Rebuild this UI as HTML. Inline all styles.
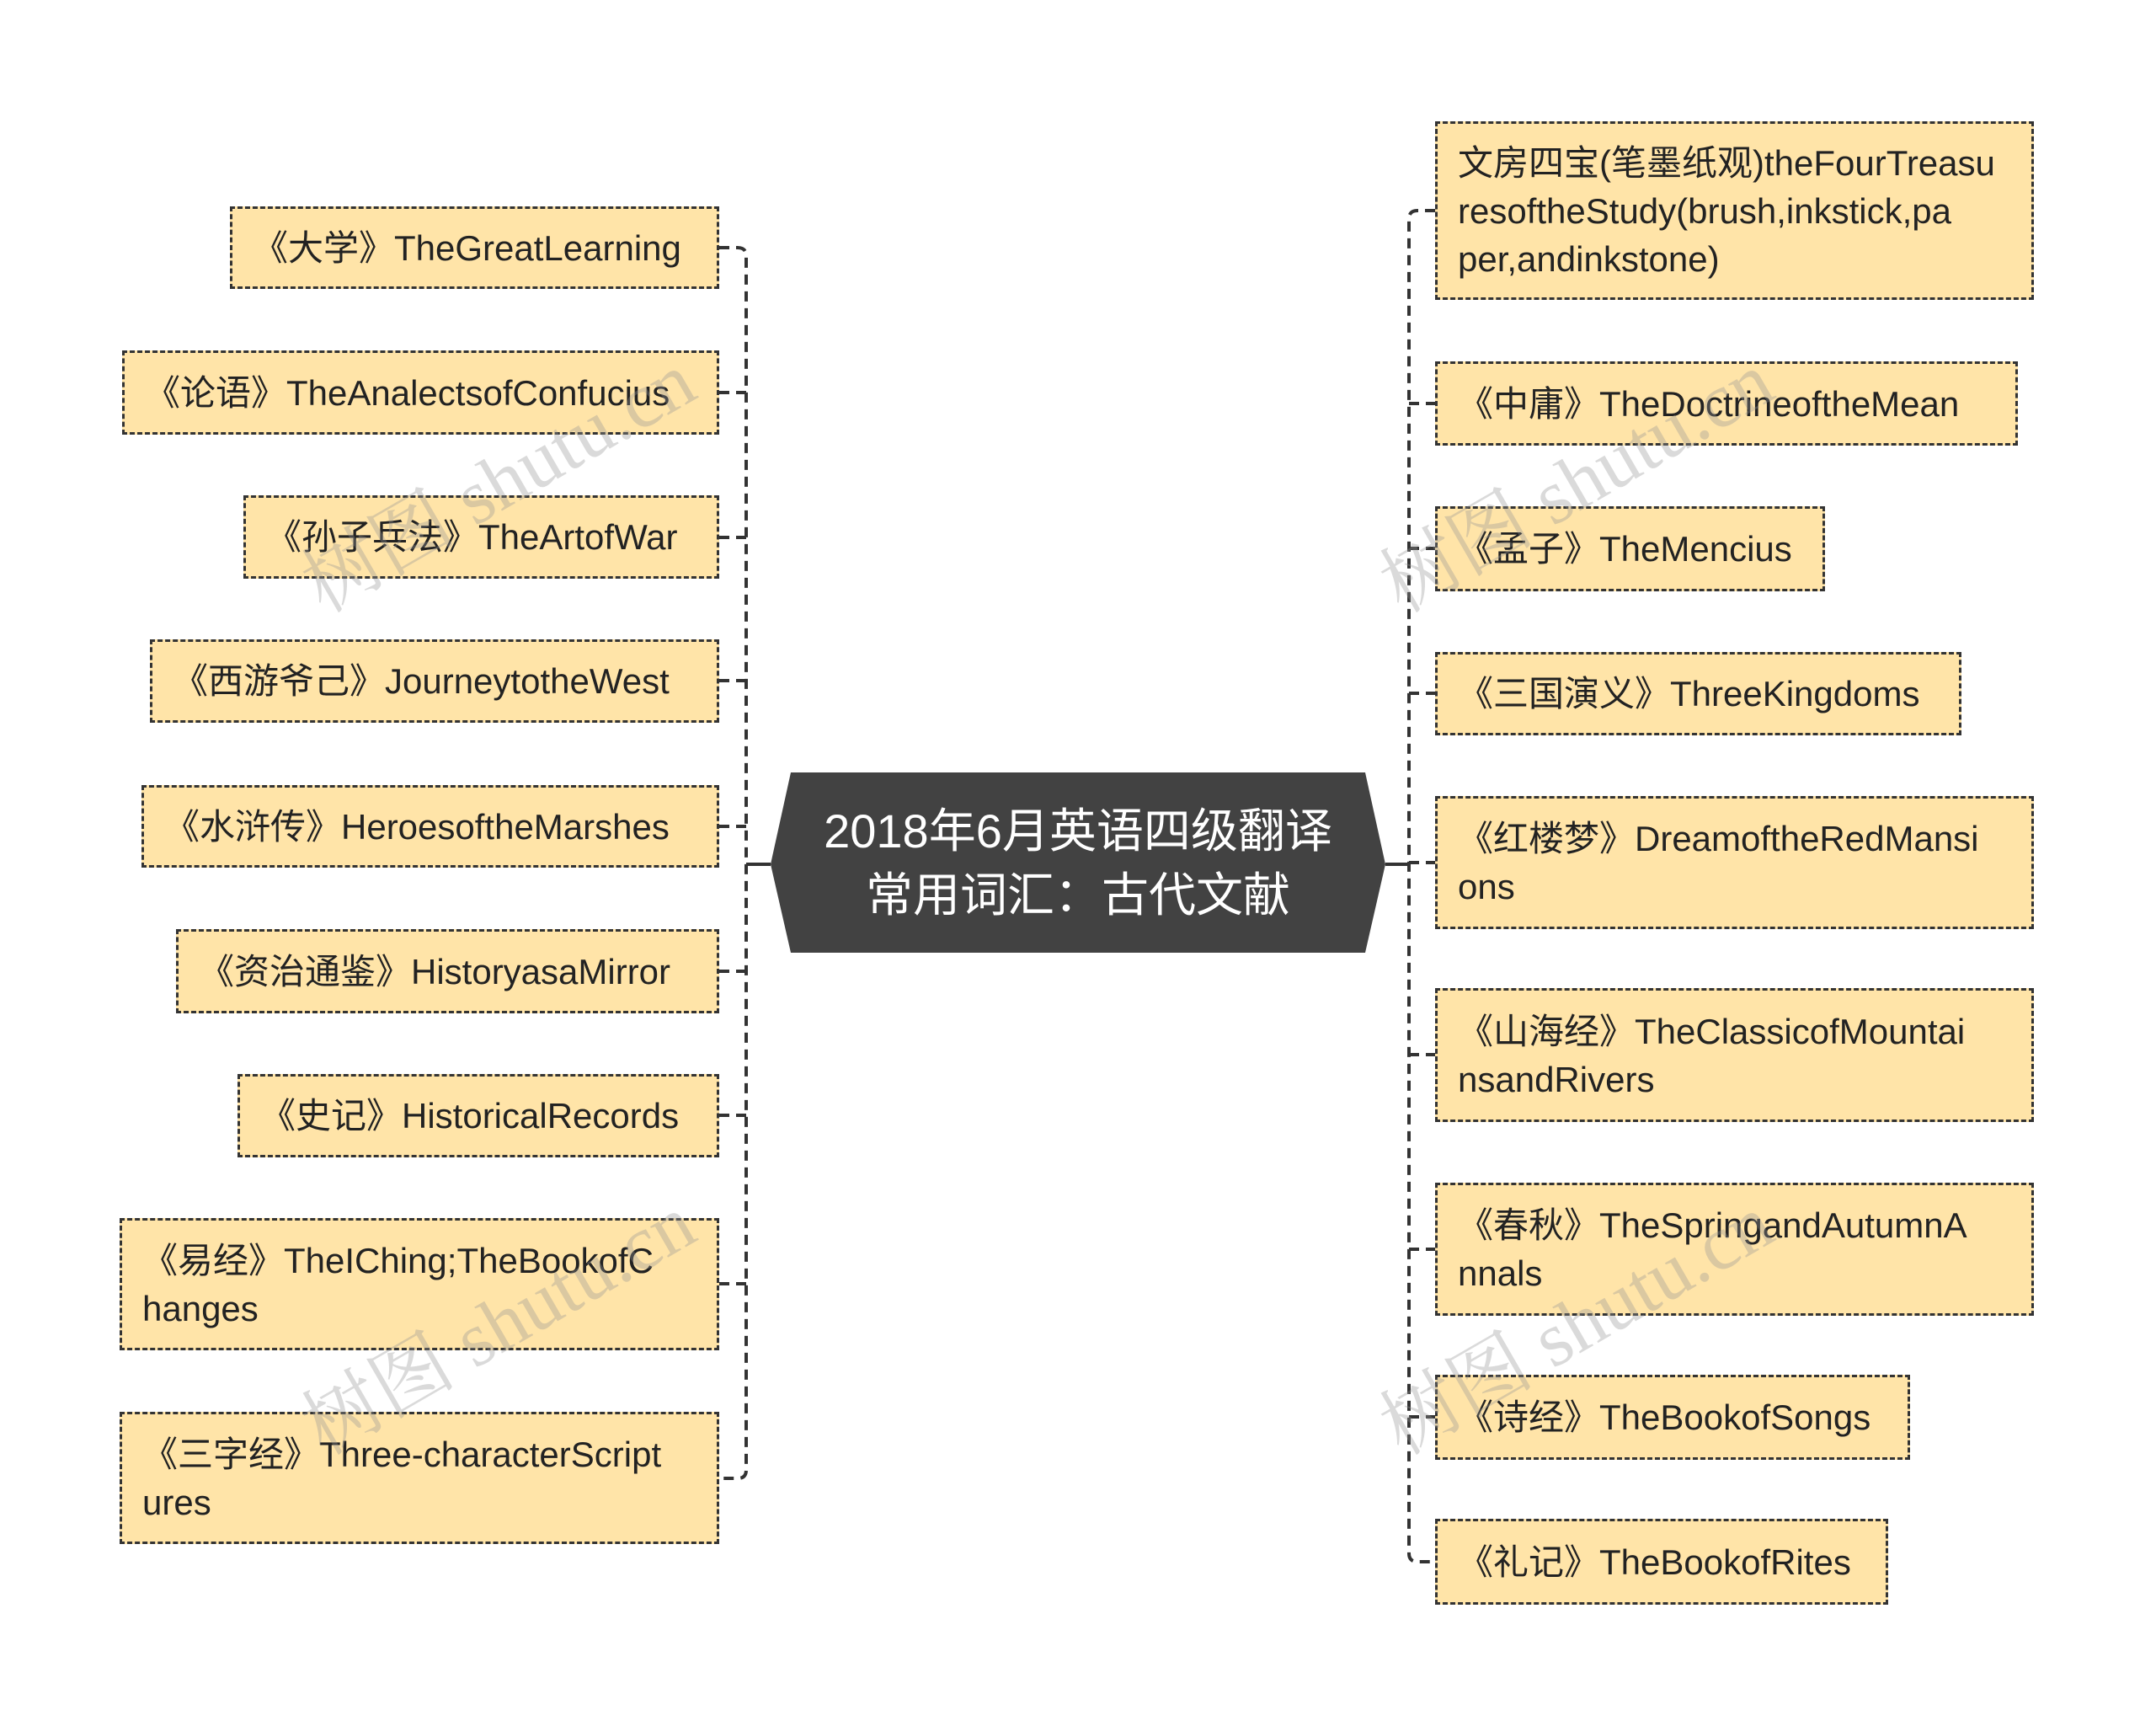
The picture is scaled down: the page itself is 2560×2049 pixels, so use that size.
<!DOCTYPE html>
<html><head><meta charset="utf-8"><style>
body{margin:0;width:2560px;height:2049px;background:#fff;position:relative;overflow:hidden;font-family:"Liberation Sans","Noto Sans CJK SC",sans-serif}
.n{position:absolute;box-sizing:border-box;background:#ffe4a8;border:3px dashed #333;padding:0 10px 0 24px;display:flex;align-items:center;font-size:42px;line-height:57px;color:#222;white-space:nowrap}
.w{position:absolute;font-family:"Liberation Serif","Noto Serif CJK SC",serif;font-size:92px;color:rgba(150,150,150,0.35);transform:rotate(-30deg);white-space:nowrap;transform-origin:center}
</style></head><body>
<svg width="2560" height="2049" style="position:absolute;left:0;top:0">
<g stroke="#333" stroke-width="4" fill="none" stroke-dasharray="12,8">
<path d="M854 294 H876 Q886 294 886 304 V1745 Q886 1755 876 1755 H854"/>
<path d="M854 466 H886 M854 638 H886 M854 808 H886 M854 981 H886 M854 1153 H886 M854 1324 H886 M854 1524 H886"/>
<path d="M1704 250 H1683 Q1673 250 1673 260 V1844 Q1673 1854 1683 1854 H1704"/>
<path d="M1673 479 H1704 M1673 651 H1704 M1673 823 H1704 M1673 1024 H1704 M1673 1252 H1704 M1673 1483 H1704 M1673 1682 H1704"/>
</g>
<g stroke="#333" stroke-width="4"><path d="M886 1026 H915 M1645 1026 H1673"/></g>
<polygon points="939,917 1621,917 1645,1026 1621,1131 939,1131 915,1026" fill="#424242"/>
<text x="1280" y="1006" font-size="56" fill="#fff" text-anchor="middle" font-family="Liberation Sans,Noto Sans CJK SC,sans-serif">2018年6月英语四级翻译</text>
<text x="1280" y="1082" font-size="56" fill="#fff" text-anchor="middle" font-family="Liberation Sans,Noto Sans CJK SC,sans-serif">常用词汇：古代文献</text>
</svg>
<div class="n" style="left:273px;top:245px;width:581px;height:98px">《大学》TheGreatLearning</div>
<div class="n" style="left:145px;top:416px;width:709px;height:100px">《论语》TheAnalectsofConfucius</div>
<div class="n" style="left:289px;top:588px;width:565px;height:99px">《孙子兵法》TheArtofWar</div>
<div class="n" style="left:178px;top:759px;width:676px;height:99px">《西游爷己》JourneytotheWest</div>
<div class="n" style="left:168px;top:932px;width:686px;height:98px">《水浒传》HeroesoftheMarshes</div>
<div class="n" style="left:209px;top:1103px;width:645px;height:100px">《资治通鉴》HistoryasaMirror</div>
<div class="n" style="left:282px;top:1275px;width:572px;height:99px">《史记》HistoricalRecords</div>
<div class="n" style="left:142px;top:1446px;width:712px;height:157px">《易经》TheIChing;TheBookofC<br>hanges</div>
<div class="n" style="left:142px;top:1676px;width:712px;height:157px">《三字经》Three-characterScript<br>ures</div>
<div class="n" style="left:1704px;top:144px;width:711px;height:212px">文房四宝(笔墨纸观)theFourTreasu<br>resoftheStudy(brush,inkstick,pa<br>per,andinkstone)</div>
<div class="n" style="left:1704px;top:429px;width:692px;height:100px">《中庸》TheDoctrineoftheMean</div>
<div class="n" style="left:1704px;top:601px;width:463px;height:101px">《孟子》TheMencius</div>
<div class="n" style="left:1704px;top:774px;width:625px;height:99px">《三国演义》ThreeKingdoms</div>
<div class="n" style="left:1704px;top:945px;width:711px;height:158px">《红楼梦》DreamoftheRedMansi<br>ons</div>
<div class="n" style="left:1704px;top:1173px;width:711px;height:159px">《山海经》TheClassicofMountai<br>nsandRivers</div>
<div class="n" style="left:1704px;top:1404px;width:711px;height:158px">《春秋》TheSpringandAutumnA<br>nnals</div>
<div class="n" style="left:1704px;top:1632px;width:564px;height:101px">《诗经》TheBookofSongs</div>
<div class="n" style="left:1704px;top:1803px;width:538px;height:102px">《礼记》TheBookofRites</div>
<div class="w" style="left:330px;top:500px">树图 shutu.cn</div>
<div class="w" style="left:330px;top:1500px">树图 shutu.cn</div>
<div class="w" style="left:1610px;top:500px">树图 shutu.cn</div>
<div class="w" style="left:1610px;top:1500px">树图 shutu.cn</div>
</body></html>
